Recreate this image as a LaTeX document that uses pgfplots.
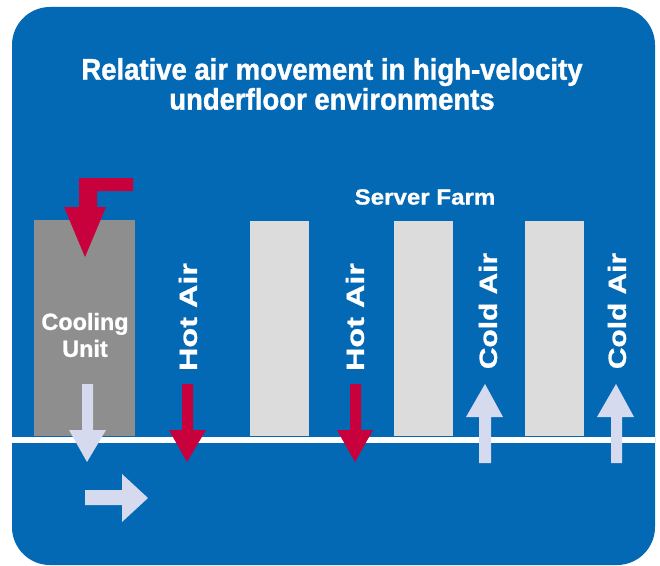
\documentclass[border=0pt]{standalone}
\usepackage{pgfplots}
\pgfplotsset{compat=1.18}
\usepackage{fontspec}
\setmainfont{Liberation Sans}
\newfontfamily\fTitle{Liberation Sans}[FakeStretch=0.92, BoldFeatures={FakeBold=1.2}]
\newfontfamily\fFarm{Liberation Sans}[FakeStretch=1.1, BoldFeatures={FakeBold=1}]
\newfontfamily\fUnit{Liberation Sans}[FakeStretch=1.0, BoldFeatures={FakeBold=1}]
\newfontfamily\fHot{Liberation Sans}[FakeStretch=1.3, BoldFeatures={FakeBold=1}]
\newfontfamily\fCold{Liberation Sans}[FakeStretch=1.2, BoldFeatures={FakeBold=1}]
\definecolor{bgblue}{RGB}{3,105,180}
\definecolor{hotred}{RGB}{200,0,60}
\definecolor{unitgray}{RGB}{142,142,142}
\definecolor{servgray}{RGB}{220,220,220}
\definecolor{coldair}{RGB}{213,218,238}
\begin{document}
\begin{tikzpicture}
\begin{axis}[
  width=660bp, height=565bp, scale only axis,
  xmin=0, xmax=660, ymin=0, ymax=565, y dir=reverse,
  hide axis, clip=false,
]
% page background
\addplot[fill=white, draw=none] coordinates {(0,0) (660,0) (660,565) (0,565)} --cycle;
% blue panel
\addplot[fill=bgblue, draw=none, rounded corners=38bp] coordinates {(330,7) (655,7) (655,565) (12,565) (12,7)} --cycle;
% floor line
\addplot[fill=white, draw=none] coordinates {(12,437) (655,437) (655,443) (12,443)} --cycle;
% cooling unit
\addplot[fill=unitgray, draw=none] coordinates {(34,220) (135,220) (135,436) (34,436)} --cycle;
% servers
\addplot[fill=servgray, draw=none] coordinates {(250,221) (309,221) (309,436) (250,436)} --cycle;
\addplot[fill=servgray, draw=none] coordinates {(394,221) (453,221) (453,436) (394,436)} --cycle;
\addplot[fill=servgray, draw=none] coordinates {(525,221) (584,221) (584,436) (525,436)} --cycle;
% red L-shaped return arrow
\addplot[fill=hotred, draw=none] coordinates {(79,178) (133,178) (133,191) (97,191) (97,207) (106,207) (85,257) (64,207) (79,207)} --cycle;
% cooling unit supply arrow
\addplot[fill=coldair, draw=none] coordinates {(82,384) (93,384) (93,430) (106,430) (87,462) (69,430) (82,430)} --cycle;
% hot air arrows
\addplot[fill=hotred, draw=none] coordinates {(182,384) (193,384) (193,430) (206,430) (187,462) (169,430) (182,430)} --cycle;
\addplot[fill=hotred, draw=none] coordinates {(350,384) (361,384) (361,430) (373,430) (355,462) (337,430) (350,430)} --cycle;
% cold air arrows
\addplot[fill=coldair, draw=none] coordinates {(479,463) (491,463) (491,417) (503,417) (485,384) (466,417) (479,417)} --cycle;
\addplot[fill=coldair, draw=none] coordinates {(611,463) (622,463) (622,417) (634,417) (616,384) (597,417) (611,417)} --cycle;
% underfloor flow arrow
\addplot[fill=coldair, draw=none] coordinates {(85,490) (122,490) (122,474) (148,498) (122,522) (122,505) (85,505)} --cycle;
% texts
\node[white, align=center, font=\fTitle\bfseries\fontsize{30}{30}\selectfont] at (axis cs:332,84) {Relative air movement in high-velocity\\underfloor environments};
\node[white, font=\fFarm\bfseries\fontsize{22}{24}\selectfont] at (axis cs:425,197) {Server Farm};
\node[white, align=center, font=\fUnit\bfseries\fontsize{23.5}{27}\selectfont] at (axis cs:85,335) {Cooling\\Unit};
\node[white, rotate=90, font=\fHot\bfseries\fontsize{25}{26}\selectfont] at (axis cs:188,317) {Hot Air};
\node[white, rotate=90, font=\fHot\bfseries\fontsize{25}{26}\selectfont] at (axis cs:355,317) {Hot Air};
\node[white, rotate=90, font=\fCold\bfseries\fontsize{25}{26}\selectfont] at (axis cs:488,311) {Cold Air};
\node[white, rotate=90, font=\fCold\bfseries\fontsize{25}{26}\selectfont] at (axis cs:617,311) {Cold Air};
\end{axis}
\end{tikzpicture}
\end{document}
